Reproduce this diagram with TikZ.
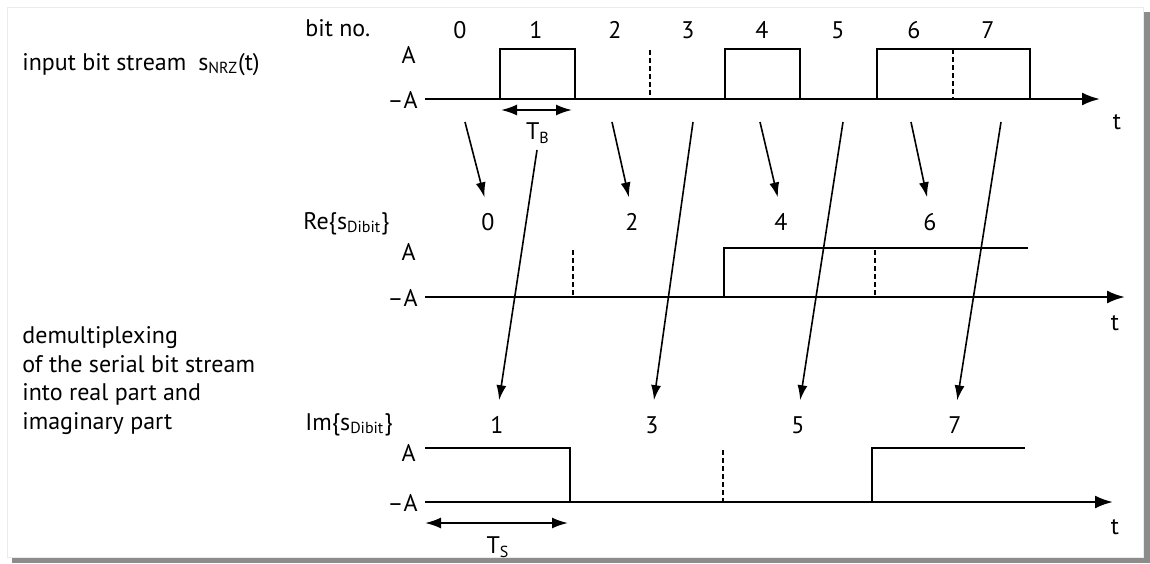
\documentclass[tikz,border=0pt]{standalone}
\usepackage{fontspec}
\setmainfont{PT Sans}
\usetikzlibrary{arrows.meta}

\begin{document}
\begin{tikzpicture}[
  x=0.5pt, y=-0.5pt,
  font=\fontsize{12}{14.3}\selectfont,
  >={Latex[length=7.5pt,width=5pt]},
  sig/.style={line width=1.3pt, line join=miter},
  taxis/.style={->, line width=1.2pt, >={Latex[length=9pt,width=6.5pt]}},
  dsh/.style={dash pattern=on 2.5pt off 1.5pt, line width=0.9pt},
  map/.style={->, line width=0.8pt, shorten >=7pt},
  span/.style={<->, line width=1pt, >={Latex[length=8pt,width=5.5pt]}},
  lvl/.style={anchor=east, inner sep=1pt},
  num/.style={inner sep=1pt},
  txt/.style={anchor=base west, align=left, inner sep=0pt}
]
\useasboundingbox (0,0) rectangle (1150,563);
\fill[black!45] (12,12) rectangle (1150,563);
\filldraw[fill=white, draw=black!8] (7,7) rectangle (1143,557);

\node[txt] (inlbl) at (22,70) {input bit stream\hspace{0.5em}s\textsubscript{NRZ}(t)};
\node[anchor=north west, align=left, inner sep=0pt] (demux) at (22,326)
  {demultiplexing\\of the serial bit stream\\into real part and\\imaginary part};

% input stream
\node[txt] (bitno) at (305,36) {bit no.};
\foreach \i/\x in {0/460,1/536,2/615,3/688,4/762,5/838,6/914,7/988}
  \node[num] (b\i) at (\x,30) {\i};
\node[lvl] (ahi) at (418,55) {A};
\node[lvl] (alo) at (420,100) {--A};
\draw[taxis] (425,99) -- (1100,99);
\draw[sig] (425,99) -| (500,49) -| (575,99) -| (725,49) -| (800,99) -| (877,49) -| (1030,99);
\draw[dsh] (650,50) -- (650,99);
\draw[dsh] (953,49) -- (953,99);
\draw[span] (501,110) -- (572,110);
\node (tb) at (538,133) {T\textsubscript{B}};
\node (t1) at (1117,122) {t};

% real part
\node[txt] (relbl) at (303,229) {Re\{s\textsubscript{Dibit}\}};
\foreach \i/\x in {0/488,2/632,4/781,6/930}
  \node[num] (r\i) at (\x,222) {\i};
\node[lvl] (rhi) at (418,252) {A};
\node[lvl] (rlo) at (420,298) {--A};
\draw[taxis] (425,297) -- (1125,297);
\draw[sig] (425,297) -| (724,248) -- (1028,248);
\draw[dsh] (573,250) -- (573,297);
\draw[dsh] (875,250) -- (875,297);
\node (t2) at (1115,323) {t};

% imaginary part
\node[txt] (imlbl) at (305,430) {Im\{s\textsubscript{Dibit}\}};
\foreach \i/\x in {1/497,3/652,5/798,7/955}
  \node[num] (i\i) at (\x,425) {\i};
\node[lvl] (ihi) at (418,453) {A};
\node[lvl] (ilo) at (420,503) {--A};
\draw[taxis] (425,502) -- (1113,502);
\draw[sig] (425,448) -| (570,502);
\draw[sig] (872,502) |- (1025,448);
\draw[dsh] (723,450) -- (723,502);
\draw[span] (425,523) -- (568,523);
\node (ts) at (498,547) {T\textsubscript{S}};
\node (t3) at (1115,527) {t};

% demultiplexing arrows
\coordinate (s0) at (465,122);
\coordinate (s1) at (537,150);
\coordinate (s2) at (612,122);
\coordinate (s3) at (693,122);
\coordinate (s4) at (760,122);
\coordinate (s5) at (843,122);
\coordinate (s6) at (911,122);
\coordinate (s7) at (1001,122);
\foreach \i in {0,2,4,6}
  \draw[map] (s\i) -- (r\i.north);
\foreach \i in {1,3,5,7}
  \draw[map] (s\i) -- (i\i.north);
\end{tikzpicture}
\end{document}
